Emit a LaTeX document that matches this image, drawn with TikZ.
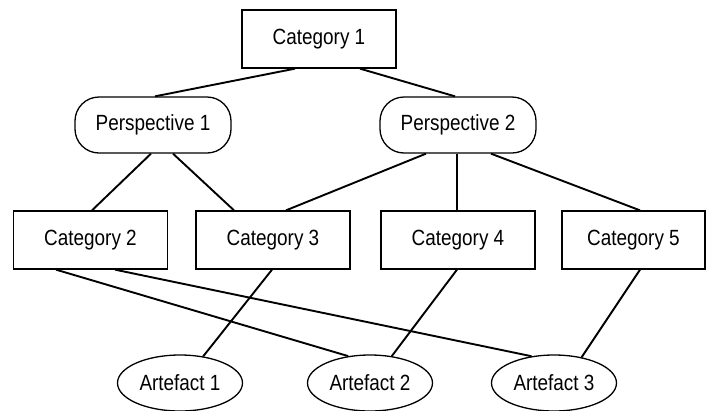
\documentclass[tikz,border=0pt]{standalone}
\usepackage{fontspec}
\setmainfont{Liberation Sans}[FakeStretch=0.86]
\usetikzlibrary{shapes.geometric}
\begin{document}
\begin{tikzpicture}[x=1pt,y=-1pt,
  every node/.style={font=\fontsize{22}{26}\selectfont, inner sep=0pt},
  catbox/.style={draw, line width=1.3pt, rectangle, minimum width=154pt, minimum height=58pt},
  perspbox/.style={draw, line width=1.3pt, rectangle, rounded corners=24pt, minimum width=156pt, minimum height=56pt},
  artbox/.style={draw, line width=1.3pt, ellipse, minimum width=125pt, minimum height=56pt},
  link/.style={line width=1.9pt}]
\useasboundingbox (0,0) rectangle (706,410);

% top category
\node[catbox] (cat1) at (319,39) {Category 1};

% perspectives
\node[perspbox] (p1) at (153,125) {Perspective 1};
\node[perspbox] (p2) at (458,125) {Perspective 2};

% lower categories
\node[catbox] (cat2) at (90.5,240) {Category 2};
\node[catbox] (cat3) at (273,240) {Category 3};
\node[catbox] (cat4) at (458,240) {Category 4};
\node[catbox, minimum width=143pt] (cat5) at (633.5,240) {Category 5};

% artefacts
\node[artbox] (a1) at (180,383) {Artefact 1};
\node[artbox] (a2) at (370,383) {Artefact 2};
\node[artbox] (a3) at (554,383) {Artefact 3};

% category 1 to perspectives
\draw[link] ([xshift=-24pt]cat1.south) -- ([xshift=2pt]p1.north);
\draw[link] ([xshift=41pt]cat1.south) -- ([xshift=-3pt]p2.north);

% perspectives to categories
\draw[link] ([xshift=-2pt]p1.south) -- ([xshift=1.5pt]cat2.north);
\draw[link] ([xshift=20pt]p1.south) -- ([xshift=-39pt]cat3.north);
\draw[link] ([xshift=-32pt]p2.south) -- ([xshift=13pt]cat3.north);
\draw[link] ([xshift=-1pt]p2.south) -- ([xshift=-1pt]cat4.north);
\draw[link] ([xshift=33pt]p2.south) -- ([xshift=6.5pt]cat5.north);

% categories to artefacts
\draw[link] ([xshift=-34.5pt]cat2.south) -- (a2.129);
\draw[link] ([xshift=24.5pt]cat2.south) -- (a3.130);
\draw[link] ([xshift=-1pt]cat3.south) -- (a1.49);
\draw[link] ([xshift=-1pt]cat4.south) -- (a2.51);
\draw[link] ([xshift=6.5pt]cat5.south) -- (a3.43);
\end{tikzpicture}
\end{document}
